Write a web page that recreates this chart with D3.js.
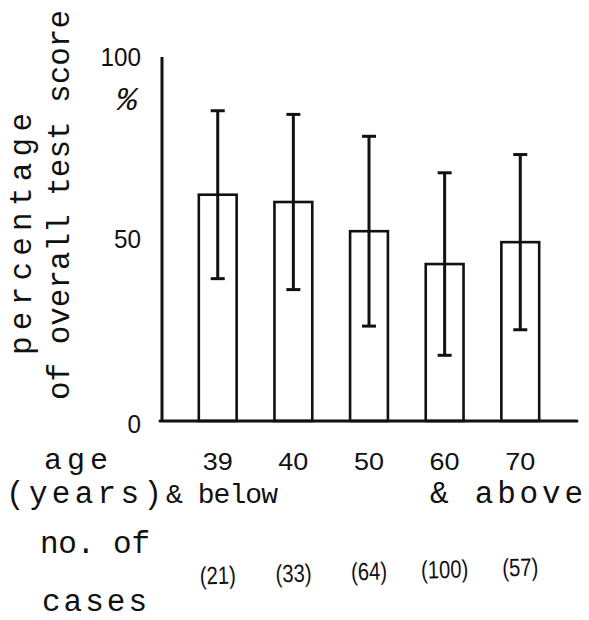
<!DOCTYPE html>
<html>
<head>
<meta charset="utf-8">
<script src="https://cdn.jsdelivr.net/npm/d3@7"></script>
<style>
  html, body { margin: 0; padding: 0; background: #fff; }
  svg { display: block; }
  .mono { font-family: "Liberation Mono", "DejaVu Sans Mono", monospace; fill: #111; }
  .narrow { font-family: "Liberation Sans Narrow", "Liberation Sans", Arial, sans-serif; fill: #111; }
</style>
</head>
<body>
<svg id="chart" width="589" height="620"></svg>
<script>
// Age groups, mean score (%) with standard deviation, and number of cases
const ageGroups = ["39", "40", "50", "60", "70"];
const meanScore = [62, 60, 52, 43, 49];
const sdScore   = [23, 24, 26, 25, 24];
const caseCounts = ["(21)", "(33)", "(64)", "(100)", "(57)"];
const yTicks = [0, 50, 100];

const svg = d3.select("#chart");
const ink = "#111";

const x = d3.scaleBand()
  .domain(ageGroups)
  .range([161, 577])
  .paddingInner(0.5)
  .paddingOuter(0.5);

const y = d3.scaleLinear().domain([0, 100]).range([421, 56]);

// Bars (outlined, unfilled)
svg.append("g").selectAll("rect")
  .data(ageGroups)
  .join("rect")
  .attr("x", d => x(d))
  .attr("y", (d, i) => y(meanScore[i]))
  .attr("width", x.bandwidth())
  .attr("height", (d, i) => y(0) - y(meanScore[i]))
  .attr("fill", "none")
  .attr("stroke", ink)
  .attr("stroke-width", 2.6);

// Error bars: mean ± SD
const eb = svg.append("g").attr("stroke", ink).attr("stroke-width", 3);
ageGroups.forEach((d, i) => {
  const cx = x(d) + x.bandwidth() / 2;
  const lo = y(meanScore[i] - sdScore[i]);
  const hi = y(meanScore[i] + sdScore[i]);
  eb.append("line").attr("x1", cx).attr("x2", cx).attr("y1", hi).attr("y2", lo);
  eb.append("line").attr("x1", cx - 7).attr("x2", cx + 7).attr("y1", hi).attr("y2", hi);
  eb.append("line").attr("x1", cx - 7).attr("x2", cx + 7).attr("y1", lo).attr("y2", lo);
});

// Y axis
const yAxis = svg.append("g")
  .attr("transform", "translate(162,0)")
  .call(d3.axisLeft(y).tickValues(yTicks).tickSize(0).tickPadding(21).tickFormat(d3.format("d")));
yAxis.select(".domain").attr("stroke", ink).attr("stroke-width", 3).attr("d", `M0,${y(0)}V${y(100) + 1}`);
yAxis.selectAll(".tick text")
  .attr("class", "narrow")
  .attr("font-size", 25)
  .attr("dy", "0.36em")
  .attr("fill", ink)
  .attr("textLength", d => String(d).length * 13.5)
  .attr("lengthAdjust", "spacingAndGlyphs");
yAxis.selectAll(".tick").filter(d => d === 0).attr("transform", `translate(0,${y(0) + 3})`);

svg.append("text").attr("class", "mono")
  .attr("x", 127).attr("y", 110)
  .attr("text-anchor", "middle")
  .attr("font-size", 34)
  .attr("font-style", "italic")
  .text("%");

// X axis line
svg.append("line")
  .attr("x1", 160).attr("x2", 577)
  .attr("y1", y(0)).attr("y2", y(0))
  .attr("stroke", ink).attr("stroke-width", 3).attr("stroke-linecap", "round");

// Category labels
svg.append("g").selectAll("text")
  .data(ageGroups)
  .join("text")
  .attr("class", "narrow")
  .attr("x", d => x(d) + x.bandwidth() / 2)
  .attr("y", 470)
  .attr("text-anchor", "middle")
  .attr("font-size", 23)
  .attr("textLength", 30)
  .attr("lengthAdjust", "spacingAndGlyphs")
  .text(d => d);

// Case counts (row drifts slightly upward to the right)
svg.append("g")
  .attr("transform", "rotate(-1.5, 368, 570)")
  .selectAll("text")
  .data(caseCounts)
  .join("text")
  .attr("class", "narrow")
  .attr("x", (d, i) => x(ageGroups[i]) + x.bandwidth() / 2)
  .attr("y", 580)
  .attr("text-anchor", "middle")
  .attr("font-size", 25)
  .attr("textLength", d => (d.length - 2) * 11 + 14)
  .attr("lengthAdjust", "spacingAndGlyphs")
  .text(d => d);

// Typewriter labels
function label(txt, xPos, yPos, len, size) {
  return svg.append("text").attr("class", "mono")
    .attr("x", xPos).attr("y", yPos)
    .attr("font-size", size || 31)
    .attr("textLength", len)
    .attr("lengthAdjust", "spacing")
    .text(txt);
}
label("age", 44, 469, 64, 30);
label("(years)", 6, 503, 156);
label("& below", 166, 503, 112, 28);
label("& above", 430, 503, 153);
label("no. of", 40, 553, 110);
label("cases", 42, 611, 105);

// Rotated y-axis title
svg.append("text").attr("class", "mono")
  .attr("transform", "translate(31,355) rotate(-90)")
  .attr("font-size", 31)
  .attr("textLength", 242)
  .attr("lengthAdjust", "spacing")
  .text("percentage");
svg.append("text").attr("class", "mono")
  .attr("transform", "translate(69,400) rotate(-90)")
  .attr("font-size", 31)
  .attr("textLength", 390)
  .attr("lengthAdjust", "spacing")
  .text("of overall test score");
</script>
</body>
</html>
